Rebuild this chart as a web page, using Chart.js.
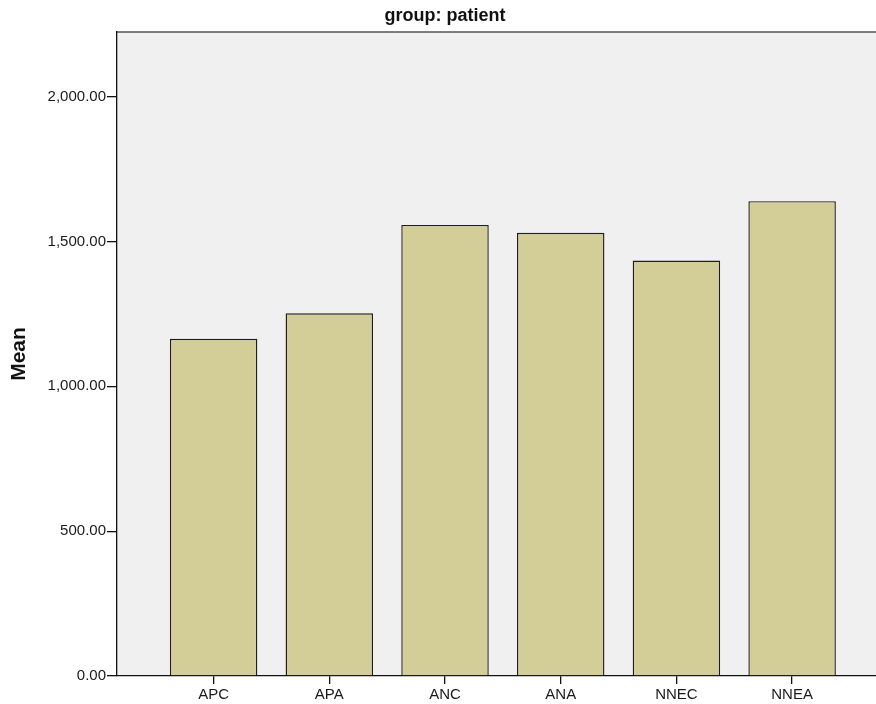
<!DOCTYPE html>
<html>
<head>
<meta charset="utf-8">
<script src="https://cdn.jsdelivr.net/npm/chart.js@4/dist/chart.umd.min.js"></script>
<style>
  body { margin: 0; background: #fff; }
  #wrap { width: 876px; height: 704px; }
</style>
</head>
<body>
<div id="wrap"><canvas id="myChart"></canvas></div>
<script>
// data
const categories = ['APC', 'APA', 'ANC', 'ANA', 'NNEC', 'NNEA'];
const means = [1164, 1252, 1557, 1530, 1434, 1639];
const yTicks = [0, 500, 1000, 1500, 2000];
const titleText = 'group: patient';
const yTitle = 'Mean';

const FONT = '"Liberation Sans", Arial, sans-serif';

// grey plot area, top border and the title above it
const plotBox = {
  id: 'plotBox',
  beforeDraw(chart) {
    const { ctx, chartArea: a } = chart;
    ctx.save();
    ctx.fillStyle = '#f0f0f0';
    ctx.fillRect(a.left, a.top, a.right - a.left, a.bottom - a.top);
    ctx.strokeStyle = '#555';
    ctx.lineWidth = 1.5;
    ctx.beginPath();
    ctx.moveTo(a.left, a.top);
    ctx.lineTo(a.right, a.top);
    ctx.stroke();
    ctx.restore();
  },
  afterDraw(chart) {
    const ctx = chart.ctx;
    ctx.save();
    ctx.fillStyle = '#111';
    ctx.font = 'bold 18px ' + FONT;
    ctx.textAlign = 'center';
    ctx.textBaseline = 'alphabetic';
    ctx.fillText(titleText, 445, 21);
    ctx.restore();
  }
};

const points = categories.map((c, i) => ({ x: i, y: means[i] }));

new Chart(document.getElementById('myChart'), {
  type: 'bar',
  data: {
    datasets: [{
      data: points,
      backgroundColor: '#d3ce97',
      borderColor: '#1e1e1e',
      borderWidth: 1.4,
      barPercentage: 0.756,
      categoryPercentage: 1
    }]
  },
  options: {
    responsive: true,
    maintainAspectRatio: false,
    devicePixelRatio: 1,
    animation: false,
    layout: { padding: { top: 32, right: 0, left: 0, bottom: 0 } },
    plugins: { legend: { display: false }, tooltip: { enabled: false } },
    scales: {
      x: {
        type: 'linear',
        offset: false,
        min: -0.835,
        max: 5.725,
        afterBuildTicks: (scale) => { scale.ticks = categories.map((c, i) => ({ value: i })); },
        afterFit: (scale) => { scale.height = 28; },
        ticks: {
          callback: (v) => categories[v],
          color: '#1a1a1a',
          font: { family: FONT, size: 15 },
          padding: 2,
          maxRotation: 0,
          autoSkip: false
        },
        grid: { offset: false, drawOnChartArea: false, drawTicks: true, tickLength: 8, color: '#111', lineWidth: 1.3 },
        border: { display: true, color: '#111', width: 1.3 }
      },
      y: {
        min: 0,
        max: 2223,
        afterBuildTicks: (scale) => { scale.ticks = yTicks.map(v => ({ value: v })); },
        afterFit: (scale) => { scale.width = 117; },
        ticks: {
          callback: (v) => v.toLocaleString('en-US', { minimumFractionDigits: 2, maximumFractionDigits: 2 }),
          color: '#1a1a1a',
          font: { family: FONT, size: 15 },
          padding: 1
        },
        grid: { drawOnChartArea: false, drawTicks: true, tickLength: 10, color: '#111', lineWidth: 1.3 },
        border: { display: true, color: '#111', width: 1.3 },
        title: {
          display: true,
          text: yTitle,
          color: '#111',
          font: { family: FONT, size: 21, weight: 'bold' },
          padding: { top: 7, bottom: 0 }
        }
      }
    }
  },
  plugins: [plotBox]
});
</script>
</body>
</html>
